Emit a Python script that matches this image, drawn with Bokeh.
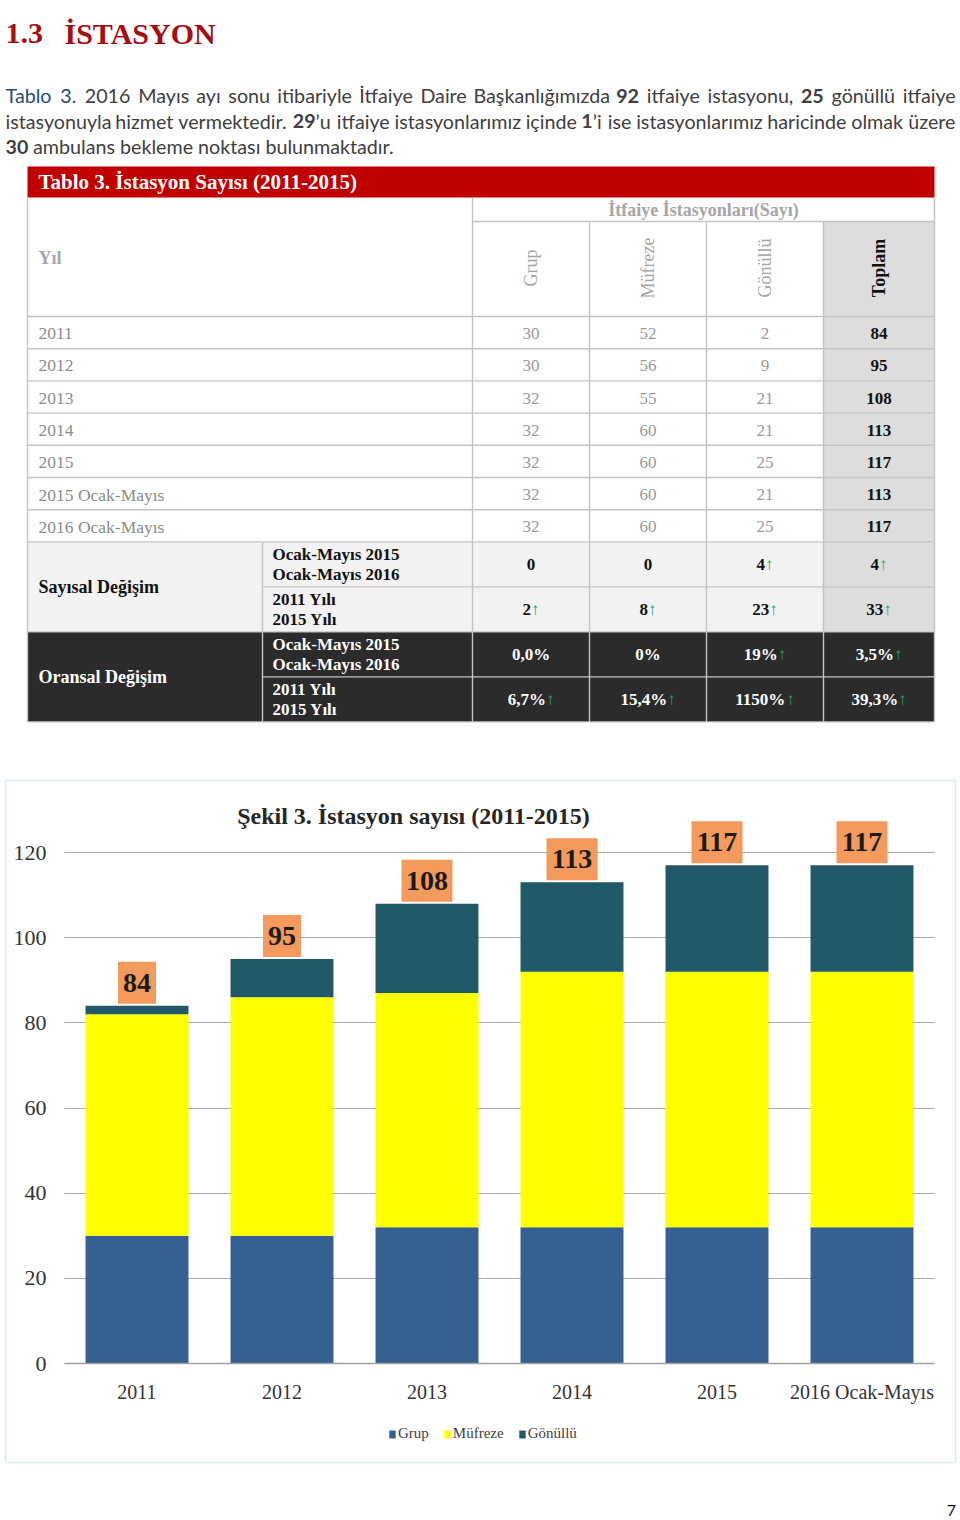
import math
from bokeh.plotting import figure
from bokeh.models import (ColumnDataSource, Range1d, FixedTicker, LinearAxis, Grid,
                          Legend, LegendItem, Label, BoxAnnotation)
from bokeh.layouts import column
from bokeh.core.properties import value
from bokeh.embed import file_html
from bokeh.resources import INLINE

# ---------------- data ----------------
table_years = ["2011", "2012", "2013", "2014", "2015", "2015 Ocak-Mayıs", "2016 Ocak-Mayıs"]
table_grup = [30, 30, 32, 32, 32, 32, 32]
table_mufreze = [52, 56, 55, 60, 60, 60, 60]
table_gonullu = [2, 9, 21, 21, 25, 21, 25]
table_toplam = [84, 95, 108, 113, 117, 113, 117]
column_names = ["Grup", "Müfreze", "Gönüllü", "Toplam"]

change_periods = [["Ocak-Mayıs 2015", "Ocak-Mayıs 2016"], ["2011 Yılı", "2015 Yılı"]]
sayisal_values = [["0", "0", "4", "4"], ["2", "8", "23", "33"]]
sayisal_up = [[False, False, True, True], [True, True, True, True]]
oransal_values = [["0,0%", "0%", "19%", "3,5%"], ["6,7%", "15,4%", "1150%", "39,3%"]]
oransal_up = [[False, False, True, True], [True, True, True, True]]

chart_years = ["2011", "2012", "2013", "2014", "2015", "2016 Ocak-Mayıs"]
chart_grup = [30, 30, 32, 32, 32, 32]
chart_mufreze = [52, 56, 55, 60, 60, 60]
chart_gonullu = [2, 9, 21, 21, 25, 25]
chart_toplam = [84, 95, 108, 113, 117, 117]
series_names = ["Grup", "Müfreze", "Gönüllü"]
y_ticks = [0, 20, 40, 60, 80, 100, 120]

# ---------------- styles ----------------
SERIF = value("Liberation Serif")
SANS = value("Lato")
RED = "#C00000"
HEAD_RED = "#A80D12"
BODY_GREY = "#404040"
BLUE_TXT = "#1F4E79"
LINE_GREY = "#C4C4C4"
LIGHT_TXT = "#A6A6A6"
DATA_TXT = "#999999"
GREEN = "#23A36B"
SERIES_COLORS = ["#376092", "#FFFF00", "#215968"]


def put_text(fig, xs, ys, texts, size, color, font=SERIF, style="normal",
             align="left", baseline="middle", angle=0.0):
    src = ColumnDataSource(dict(x=list(xs), y=list(ys), t=list(texts)))
    fig.text(x="x", y="y", text="t", source=src, text_font=font,
             text_font_size=f"{size}px", text_color=color, text_font_style=style,
             text_align=align, text_baseline=baseline, angle=angle)


# ======================= top: heading, paragraph, table =======================
top = figure(width=960, height=760, x_range=Range1d(0, 960), y_range=Range1d(760, 0),
             output_backend="svg", toolbar_location=None, min_border=0,
             x_axis_location=None, y_axis_location=None, outline_line_color=None)
top.grid.visible = False

put_text(top, [5, 64], [32.5, 32.5], ["1.3", "İSTASYON"], 30, HEAD_RED,
         style="bold", baseline="alphabetic")

# ---- justified paragraph ----
BODY_PX = 19.7
_cw = dict(a=.479, b=.525, c=.423, d=.525, e=.498, f=.305, g=.471, h=.525, i=.229, j=.239,
           k=.455, l=.229, m=.799, n=.525, o=.527, p=.525, q=.525, r=.349, s=.391, t=.335,
           u=.525, v=.452, w=.715, x=.433, y=.453, z=.395)
_cw.update({"ı": .229, "ş": .391, "ğ": .471, "ü": .525, "ç": .423, "ö": .527,
            "T": .487, "B": .544, "D": .615, "M": .855, "İ": .252,
            ".": .252, ",": .250, "’": .250})


def est_sans(s):
    w = 0.0
    for ch in s:
        if ch.isdigit():
            w += 0.58
        else:
            w += _cw.get(ch, .5) * 1.06
    return w * BODY_PX


W = lambda t, b=False, c=BODY_GREY: (t, b, c)
para_words = [
    [[W("Tablo", c=BLUE_TXT)], [W("3.", c=BLUE_TXT)], [W("2016")], [W("Mayıs")], [W("ayı")],
     [W("sonu")], [W("itibariyle")], [W("İtfaiye")], [W("Daire")], [W("Başkanlığımızda")],
     [W("92", True)], [W("itfaiye")], [W("istasyonu,")], [W("25", True)], [W("gönüllü")],
     [W("itfaiye")]],
    [[W("istasyonuyla")], [W("hizmet")], [W("vermektedir.")], [W("29", True), W("’u")],
     [W("itfaiye")], [W("istasyonlarımız")], [W("içinde")], [W("1", True), W("’i")],
     [W("ise")], [W("istasyonlarımız")], [W("haricinde")], [W("olmak")], [W("üzere")]],
    [[W("30", True)], [W("ambulans bekleme noktası bulunmaktadır.")]],
]
para_base = [95, 120.5, 146]
justified = [True, True, False]
LEFT, RIGHT = 5, 955

runs = []  # (x, y, text, bold, colour)
for words, yb, just in zip(para_words, para_base, justified):
    widths = [sum(est_sans(r[0]) for r in wd) for wd in words]
    gap = (RIGHT - LEFT - sum(widths)) / (len(words) - 1) if just else 0.226 * 1.06 * BODY_PX
    x = LEFT
    for wd, wdt in zip(words, widths):
        xr = x
        for t, b, c in wd:
            runs.append((xr, yb, t, b, c))
            xr += est_sans(t)
        x += wdt + gap
for bold in (False, True):
    for colr in (BLUE_TXT, BODY_GREY):
        sel = [r for r in runs if r[3] == bold and r[4] == colr]
        if sel:
            put_text(top, [r[0] for r in sel], [r[1] for r in sel], [r[2] for r in sel],
                     BODY_PX, colr, font=SANS, style="bold" if bold else "normal",
                     baseline="alphabetic")

# ---- table geometry (layout only) ----
TL, TR = 27, 934
col_edges = [472, 589, 706, 823, 934]
col_centers = [(a + b) / 2 for a, b in zip(col_edges[:-1], col_edges[1:])]
SUB_X = 262
RED_T, RED_B = 166, 197
HDR_SPLIT, HDR_B = 221, 316
ROW_H = 32.2
CH_H = 45
row_lines = [HDR_B + i * ROW_H for i in range(len(table_years) + 1)]
ch_lines = [row_lines[-1] + i * CH_H for i in range(5)]
BOT = ch_lines[-1]

top.quad(left=[TL, col_edges[3], TL, TL], right=[TR, TR, col_edges[3], TR],
         top=[RED_T, HDR_SPLIT, ch_lines[0], ch_lines[2]],
         bottom=[RED_B, ch_lines[2], ch_lines[2], BOT],
         fill_color=[RED, "#DDDDDD", "#F2F2F2", "#2B2B2B"], line_color=None)

x0, y0, x1, y1 = [], [], [], []
for yy in [HDR_B] + row_lines[1:] + [ch_lines[2], BOT]:
    x0 += [TL]; x1 += [TR]; y0 += [yy]; y1 += [yy]
for yy in [ch_lines[1], ch_lines[3]]:
    x0 += [SUB_X]; x1 += [TR]; y0 += [yy]; y1 += [yy]
x0 += [col_edges[0]]; x1 += [TR]; y0 += [HDR_SPLIT]; y1 += [HDR_SPLIT]
for xx in [TL, TR, col_edges[0]]:
    x0 += [xx]; x1 += [xx]; y0 += [RED_B]; y1 += [BOT]
for xx in col_edges[1:4]:
    x0 += [xx]; x1 += [xx]; y0 += [HDR_SPLIT]; y1 += [BOT]
x0 += [SUB_X]; x1 += [SUB_X]; y0 += [ch_lines[0]]; y1 += [BOT]
top.segment(x0=x0, y0=y0, x1=x1, y1=y1, line_color=LINE_GREY, line_width=1.4)

put_text(top, [38], [(RED_T + RED_B) / 2], ["Tablo 3. İstasyon Sayısı (2011-2015)"], 21,
         "white", style="bold")
put_text(top, [38], [257], ["Yıl"], 18, LIGHT_TXT, style="bold")
put_text(top, [(col_edges[0] + TR) / 2], [(RED_B + HDR_SPLIT) / 2],
         ["İtfaiye İstasyonları(Sayı)"], 18, LIGHT_TXT, style="bold", align="center")
hdr_y = (HDR_SPLIT + HDR_B) / 2 - 1
put_text(top, col_centers[:3], [hdr_y] * 3, column_names[:3], 18, LIGHT_TXT,
         align="center", angle=math.pi / 2)
put_text(top, col_centers[3:], [hdr_y], column_names[3:], 18, "#111111", style="bold",
         align="center", angle=math.pi / 2)

row_c = [(a + b) / 2 + 1 for a, b in zip(row_lines[:-1], row_lines[1:])]
put_text(top, [38] * len(table_years), row_c, table_years, 17.5, "#8C8C8C")
for ci, vals in enumerate([table_grup, table_mufreze, table_gonullu]):
    put_text(top, [col_centers[ci]] * len(vals), row_c, [str(v) for v in vals], 17,
             DATA_TXT, align="center")
put_text(top, [col_centers[3]] * len(table_toplam), row_c,
         [str(v) for v in table_toplam], 17, "#111111", style="bold", align="center")

ch_c = [(a + b) / 2 for a, b in zip(ch_lines[:-1], ch_lines[1:])]
put_text(top, [38], [ch_lines[1]], ["Sayısal Değişim"], 18, "#111111", style="bold")
put_text(top, [38], [ch_lines[3]], ["Oransal Değişim"], 18, "white", style="bold")


def est_w(s, size):
    w = 0.0
    for ch in s:
        w += 1.0 if ch == "%" else (0.25 if ch in ",." else 0.5)
    return w * size


for blk, (vals, ups, tcol) in enumerate([(sayisal_values, sayisal_up, "#111111"),
                                         (oransal_values, oransal_up, "white")]):
    for r in range(2):
        cy = ch_c[blk * 2 + r]
        put_text(top, [272, 272], [cy - 10, cy + 10], change_periods[r], 17, tcol,
                 style="bold")
        vx, vy, vt, ax, ay = [], [], [], [], []
        for c in range(4):
            s = vals[r][c]
            wv = est_w(s, 17)
            wt = wv + (8.5 if ups[r][c] else 0)
            xs = col_centers[c] - wt / 2
            vx.append(xs); vy.append(cy); vt.append(s)
            if ups[r][c]:
                ax.append(xs + wv); ay.append(cy)
        put_text(top, vx, vy, vt, 17, tcol, style="bold")
        if ax:
            put_text(top, ax, ay, ["↑"] * len(ax), 17, GREEN)

# ======================= bottom: stacked bar chart =======================
CAT_PX = 145.0          # pixels per category
PX_PER_UNIT = 4.258     # pixels per station
X0_PX = 136.5           # canvas x of first category centre
Y0_PX = 603.0           # canvas y of value 0
CW, CH = 960, 760

chart = figure(width=CW, height=CH,
               x_range=Range1d(-X0_PX / CAT_PX, (CW - X0_PX) / CAT_PX),
               y_range=Range1d(-(CH - Y0_PX) / PX_PER_UNIT, Y0_PX / PX_PER_UNIT),
               output_backend="svg", toolbar_location=None, min_border=0,
               x_axis_location=None, y_axis_location=None, outline_line_color=None)
chart.grid.visible = False

cat_x = list(range(len(chart_years)))
src = ColumnDataSource(dict(x=cat_x, grup=chart_grup, mufreze=chart_mufreze,
                            gonullu=chart_gonullu))
rends = chart.vbar_stack(["grup", "mufreze", "gonullu"], x="x", width=0.71,
                         color=SERIES_COLORS, line_color=None, source=src)

lab_src = ColumnDataSource(dict(
    x=cat_x,
    y=[t + 23 / PX_PER_UNIT for t in chart_toplam],
    w=[13 * len(str(t)) + 12 for t in chart_toplam],
    t=[str(t) for t in chart_toplam]))
chart.rect(x="x", y="y", width="w", height=42, width_units="screen",
           height_units="screen", fill_color="#F49A5C", line_color=None, source=lab_src)
chart.text(x="x", y="y", text="t", source=lab_src, text_align="center",
           text_baseline="middle", text_font=SERIF, text_font_style="bold",
           text_font_size="28px", text_color="#1A1A1A")

plot_left, plot_right = -0.5, len(chart_years) - 0.5

ygrid = Grid(dimension=1, ticker=FixedTicker(ticks=y_ticks), cross_bounds=(plot_left, plot_right),
             grid_line_color="#A8A8A8", grid_line_width=1.2)
chart.add_layout(ygrid)

yaxis = LinearAxis(fixed_location=plot_left, ticker=FixedTicker(ticks=y_ticks),
                   axis_line_color=None, major_tick_line_color=None,
                   minor_tick_line_color=None, major_label_standoff=12,
                   major_label_text_font="Liberation Serif",
                   major_label_text_font_size="22px", major_label_text_color="#333333")
chart.add_layout(yaxis, "left")

xaxis = LinearAxis(fixed_location=0, bounds=(plot_left, plot_right),
                   ticker=FixedTicker(ticks=cat_x),
                   major_label_overrides={i: y for i, y in zip(cat_x, chart_years)},
                   axis_line_color="#A0A0A0", axis_line_width=1.5,
                   major_tick_line_color=None, minor_tick_line_color=None,
                   major_label_standoff=11, major_label_text_font="Liberation Serif",
                   major_label_text_font_size="20px", major_label_text_color="#333333")
chart.add_layout(xaxis, "below")

legend = Legend(items=[LegendItem(label=n, renderers=[r]) for n, r in zip(series_names, rends)],
                orientation="horizontal", location=(388, 78),
                label_text_font="Liberation Serif", label_text_font_size="15px",
                label_text_color="#404040", glyph_width=8, glyph_height=10,
                label_standoff=2, spacing=14, border_line_color=None,
                background_fill_alpha=0, padding=0, margin=0)
chart.add_layout(legend)

chart.add_layout(Label(x=413, y=55, x_units="canvas", y_units="canvas",
                       text="Şekil 3. İstasyon sayısı (2011-2015)", text_align="center",
                       text_baseline="middle", text_font="Liberation Serif",
                       text_font_style="bold", text_font_size="24px", text_color="#262626"))
chart.add_layout(BoxAnnotation(left=5, right=955, top=20, bottom=702, left_units="canvas",
                               right_units="canvas", top_units="canvas", bottom_units="canvas",
                               fill_alpha=0, line_color="#9CBFCF", line_width=1.5))
chart.add_layout(Label(x=951, y=750, x_units="canvas", y_units="canvas", text="7",
                       text_align="center", text_baseline="middle", text_font="Lato",
                       text_font_size="16px", text_color="#111111"))

page = column(top, chart, spacing=0)
open("out.html", "w").write(file_html(page, INLINE))
